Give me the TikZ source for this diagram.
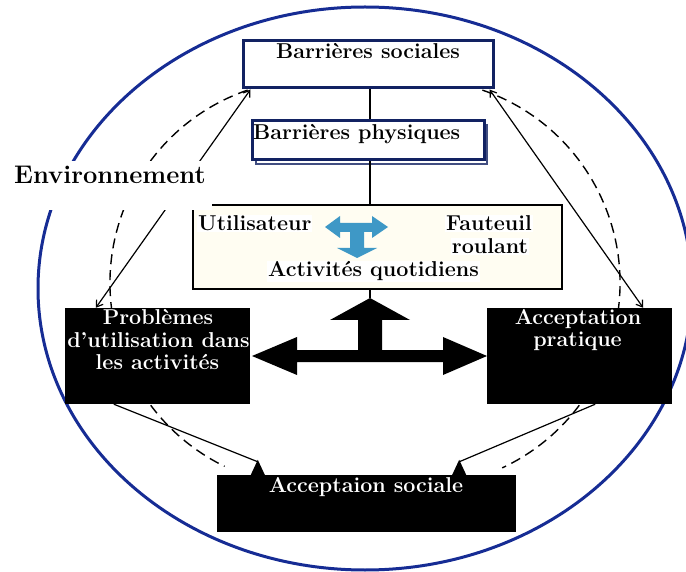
\documentclass[tikz,border=0pt]{standalone}
\usepackage{fontspec}
\usetikzlibrary{arrows.meta}
\definecolor{ringblue}{RGB}{22,44,148}
\definecolor{framenavy}{RGB}{18,34,98}
\definecolor{teearrow}{RGB}{62,152,198}
\definecolor{cream}{RGB}{255,253,242}
\begin{document}
\begin{tikzpicture}[x=1pt,y=-1pt,
  txt/.style={font=\fontsize{21.5}{23}\selectfont\bfseries, inner sep=0pt, anchor=base},
  wtxt/.style={txt, text=white},
  navyframe/.style={rectangle, draw=framenavy, line width=3pt, fill=white, inner sep=0pt},
  blackbox/.style={rectangle, fill=black, inner sep=0pt},
  link/.style={line width=1.2pt},
  dual/.style={link, {Straight Barb[length=6pt,width=8pt]}-{Straight Barb[length=6pt,width=8pt]}},
  dasharc/.style={line width=1.4pt, dash pattern=on 10pt off 6pt}]

\useasboundingbox (0,0) rectangle (686,572);

% outer environment ring
\draw[ringblue, line width=3pt] (365,288.5) ellipse [x radius=327, y radius=281.5];

% dashed influence arcs
\draw[dasharc] (314,283) ++(251:204) arc[start angle=251, end angle=116, radius=204];
\draw[dasharc] (416,283) ++(-71:204) arc[start angle=-71, end angle=65, radius=204];

% boxes
\node[navyframe, minimum width=250, minimum height=47] (soc) at (368,64.5) {};
\node[txt] (soct) at (368,59) {Barrières sociales};

\draw[framenavy!80, line width=2.5pt] (256,125) rectangle (487,164);
\node[navyframe, minimum width=232, minimum height=39] (phys) at (368,140.5) {};
\node[txt, anchor=base west] (physt) at (253,140) {Barrières physiques};

\node[rectangle, draw=black, line width=2.5pt, fill=cream, minimum width=369, minimum height=84] (act) at (377.5,247) {};
\node[txt, anchor=base west, fill=white, inner sep=1pt] (user) at (197,231) {Utilisateur};
\node[txt, fill=white, inner sep=1pt] (chair1) at (489,231) {Fauteuil};
\node[txt, fill=white, inner sep=1pt] (chair2) at (490,254) {roulant};
\node[txt, fill=white, inner sep=1pt] (daily) at (373.5,277) {Activités quotidiens};

% user / wheelchair / activities tee arrow
\fill[teearrow] (325,227) -- (340,216) -- (340,223) -- (372,223) -- (372,216) -- (388,227)
  -- (372,238) -- (372,232) -- (364,232) -- (364,248) -- (377,248) -- (357,258)
  -- (337,248) -- (350,248) -- (350,232) -- (340,232) -- (340,238) -- cycle;

\node[blackbox, minimum width=185, minimum height=96] (prob) at (157.5,356) {};
\node[wtxt] (prob1) at (158,325) {Problèmes};
\node[wtxt] (prob2) at (158.5,348) {d'utilisation dans};
\node[wtxt] (prob3) at (157.5,370) {les activités};

\node[blackbox, minimum width=185, minimum height=96] (prat) at (579.5,356) {};
\node[wtxt] (prat1) at (578,325) {Acceptation};
\node[wtxt] (prat2) at (577.5,347) {pratique};

\node[blackbox, minimum width=299, minimum height=57] (accs) at (366.5,503.5) {};
\node[wtxt] (accs1) at (366,492) {Acceptaion sociale};

% central axis
\coordinate (tip) at (370,298);
\draw[link] (soc.south -| tip) -- (phys.north -| tip);
\draw[link] (phys.south -| tip) -- (act.north -| tip);
\draw[link] (act.south -| tip) -- (tip);

% three-way black arrow
\fill[black] (tip) -- (410,320) -- (382,320) -- (382,350) -- (443,350) -- (443,337) -- (487,356)
  -- (443,375) -- (443,362) -- (297,362) -- (297,375) -- (252,356) -- (297,337) -- (297,350)
  -- (358,350) -- (358,320) -- (330,320) -- cycle;

% solid links
\draw[dual] ([xshift=9pt]soc.south west) -- ([xshift=31pt]prob.north west);
\draw[dual] ([xshift=-5pt]soc.south east) -- ([xshift=-29pt]prat.north east);
\draw[link] ([xshift=49pt]prob.south west) -- ([xshift=41pt,yshift=13pt]accs.north west);
\draw[link] ([xshift=-77pt]prat.south east) -- ([xshift=-57pt,yshift=13pt]accs.north east);
\fill ([xshift=34pt]accs.north west) -- ++(7,-15) -- ++(7,15) -- cycle;
\fill ([xshift=-64pt]accs.north east) -- ++(7,-15) -- ++(7,15) -- cycle;

% environment label
\node[rectangle, fill=white, minimum width=212, minimum height=49, inner sep=0pt] (envbg) at (106,185.5) {};
\node[txt, anchor=base west, font=\fontsize{25.5}{28}\selectfont\bfseries] (env) at (14,184) {Environnement};
\end{tikzpicture}
\end{document}
